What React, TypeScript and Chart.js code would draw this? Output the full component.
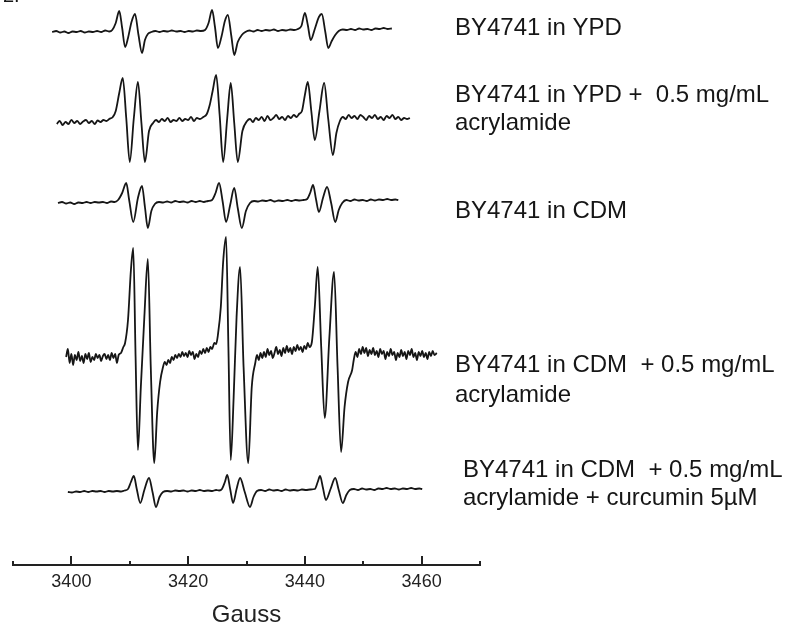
import React, { useEffect, useRef } from 'react';
import { Chart, registerables } from 'chart.js';

Chart.register(...registerables);

// ---- Data (magnetic field in Gauss, signal in arbitrary units) ----
const fieldMin = 3390;
const fieldMax = 3470;
const tickValues = [3390, 3400, 3410, 3420, 3430, 3440, 3450, 3460, 3470];
const labeledTicks = [3400, 3420, 3440, 3460];
const axisTitle = 'Gauss';

const ypd: [number, number][] = [
  [3396.7, 0], [3397.4, 1], [3398.1, -0.5], [3398.8, 0.5], [3399.5, -1], [3400.2, 0.5], [3400.9, 0], [3401.6, 1],
  [3402.3, -0.5], [3403.0, 0.5], [3403.7, 0], [3404.4, 1], [3405.1, 0], [3405.8, 1.5], [3406.5, 0.5], [3407.0, 2],
  [3407.6, 9], [3408.2, 21], [3408.7, 4], [3409.2, -15], [3409.7, -6], [3410.3, 10], [3410.9, 18], [3411.5, -3],
  [3412.1, -21], [3412.6, -8], [3413.1, -2], [3413.7, 0], [3414.4, 1], [3415.1, 0], [3415.8, 1], [3416.5, 0.5],
  [3417.2, 1.5], [3418.0, 0.5], [3418.7, 1], [3419.4, 0], [3420.1, 1], [3420.8, 0.5], [3421.5, 1.5], [3422.2, 1],
  [3422.9, 2], [3423.5, 9], [3424.1, 22], [3424.6, 5], [3425.1, -16], [3425.7, -5], [3426.3, 11], [3426.8, 17],
  [3427.4, -4], [3427.9, -23], [3428.5, -10], [3429.2, -3], [3429.8, 0], [3430.5, 1.5], [3431.2, 0.5], [3431.9, 2],
  [3432.6, 1], [3433.3, 2], [3434.0, 1.5], [3434.7, 2.5], [3435.4, 1], [3436.1, 2], [3436.8, 1.5], [3437.5, 2.5],
  [3438.2, 2], [3438.8, 3], [3439.4, 6], [3440.0, 19], [3440.5, 7], [3441.0, -8], [3441.7, 3], [3442.4, 15],
  [3442.9, 18], [3443.5, 0], [3444.0, -16], [3444.6, -9], [3445.2, -3], [3445.8, 1], [3446.5, 2.5], [3447.2, 2],
  [3447.9, 3], [3448.6, 2], [3449.3, 3.5], [3450.0, 2.5], [3450.7, 3], [3451.4, 2], [3452.1, 3.5], [3452.8, 3],
  [3453.5, 4], [3454.2, 3], [3454.9, 3.5],
];

const ypdAcrylamide: [number, number][] = [
  [3397.5, -1], [3398.0, 2], [3398.5, -2], [3399.0, 1], [3399.5, -1], [3400.0, 3], [3400.5, 0], [3401.0, 2],
  [3401.5, -1], [3402.0, 1.5], [3402.5, 3], [3403.0, 0], [3403.5, 2], [3404.0, -1], [3404.5, 2.5], [3405.0, 1],
  [3405.5, 3], [3406.0, 2], [3406.5, 4], [3407.1, 6], [3407.6, 12], [3408.2, 30], [3408.8, 45], [3409.4, 5],
  [3410.0, -39], [3410.7, 5], [3411.4, 41], [3412.0, 0], [3412.6, -39], [3413.3, -8], [3414.0, 0], [3414.5, 3],
  [3415.0, 1], [3415.5, 4], [3416.0, 2], [3416.5, 5], [3417.0, 1], [3417.5, 3], [3418.0, 2], [3418.5, 5],
  [3419.0, 2], [3419.5, 4], [3420.0, 3], [3420.5, 6], [3421.0, 2], [3421.5, 5], [3422.0, 4], [3422.6, 6],
  [3423.2, 9], [3423.7, 18], [3424.2, 32], [3424.8, 48], [3425.4, 8], [3426.0, -39], [3426.7, 5], [3427.3, 40],
  [3427.9, 0], [3428.5, -39], [3429.3, -8], [3430.1, 2], [3430.6, 4], [3431.1, 1], [3431.6, 5], [3432.1, 3],
  [3432.6, 6], [3433.1, 2], [3433.6, 7], [3434.1, 3], [3434.6, 5], [3435.1, 8], [3435.6, 4], [3436.1, 6],
  [3436.6, 3], [3437.1, 7], [3437.6, 5], [3438.1, 8], [3438.6, 6], [3439.0, 9], [3439.5, 12], [3440.0, 28],
  [3440.5, 41], [3441.1, 12], [3441.7, -17], [3442.5, 12], [3443.3, 40], [3444.0, 4], [3444.8, -32], [3445.4, -10],
  [3446.0, 2], [3446.5, 6], [3447.0, 4], [3447.5, 8], [3448.0, 5], [3448.5, 7], [3449.0, 4], [3449.5, 8],
  [3450.0, 6], [3450.5, 3], [3451.0, 7], [3451.5, 5], [3452.0, 8], [3452.5, 4], [3453.0, 6], [3453.5, 3],
  [3454.0, 7], [3454.5, 5], [3455.0, 8], [3455.5, 4], [3456.0, 6], [3456.5, 3], [3457.0, 5], [3457.5, 4],
  [3458.0, 5],
];

const cdm: [number, number][] = [
  [3397.7, 0], [3398.4, 1], [3399.1, -0.5], [3399.8, 0.5], [3400.5, -1], [3401.2, 0.5], [3401.9, 0], [3402.6, 1],
  [3403.3, 0], [3404.0, 1], [3404.7, 0.5], [3405.4, 1], [3406.1, 0], [3406.8, 1.5], [3407.4, 1], [3408.0, 3],
  [3408.7, 10], [3409.4, 20], [3409.9, 3], [3410.6, -19], [3411.4, 5], [3412.1, 17], [3412.6, -4], [3413.1, -25],
  [3413.7, -8], [3414.3, -1], [3415.0, 1], [3415.7, 0.5], [3416.4, 1.5], [3417.1, 0.5], [3417.8, 2], [3418.5, 1],
  [3419.2, 1.5], [3419.9, 0.5], [3420.6, 2], [3421.3, 1], [3422.0, 2], [3422.7, 1], [3423.4, 2], [3424.1, 3],
  [3424.7, 10], [3425.3, 20], [3425.9, 2], [3426.5, -19], [3427.2, -2], [3427.9, 15], [3428.5, -5], [3429.2, -25],
  [3429.9, -8], [3430.6, 0], [3431.3, 2], [3432.0, 1.5], [3432.7, 2.5], [3433.4, 2], [3434.1, 3], [3434.8, 1.5],
  [3435.5, 2.5], [3436.2, 2], [3437.0, 3], [3437.7, 2], [3438.4, 3], [3439.1, 2.5], [3439.8, 3], [3440.4, 4],
  [3440.9, 10], [3441.4, 18], [3441.9, 4], [3442.4, -9], [3443.1, 5], [3443.8, 16], [3444.5, 0], [3445.2, -19],
  [3445.8, -7], [3446.4, 0], [3447.1, 3], [3447.8, 2], [3448.5, 3.5], [3449.2, 2.5], [3449.9, 3], [3450.6, 2],
  [3451.3, 3.5], [3452.0, 2.5], [3452.7, 3.5], [3453.4, 3], [3454.1, 4], [3454.8, 3], [3455.5, 3.5], [3456.0, 3],
];

const cdmAcrylamide: [number, number][] = [
  [3399.1, 0], [3399.4, 8], [3399.7, -6], [3400.0, 3], [3400.3, -8], [3400.6, 2], [3400.9, -3], [3401.2, 5],
  [3401.5, -4], [3401.8, 1], [3402.1, -6], [3402.4, 3], [3402.7, -2], [3403.0, 4], [3403.3, -5], [3403.6, 0],
  [3403.9, -3], [3404.2, 3], [3404.5, -1], [3404.8, 2], [3405.1, -4], [3405.4, 1], [3405.7, 3], [3406.0, -2],
  [3406.3, 2], [3406.6, -3], [3406.9, 4], [3407.2, -1], [3407.5, 3], [3407.8, -6], [3408.1, 2], [3408.5, 4],
  [3408.9, 10], [3409.2, 14], [3409.7, 37], [3410.2, 87], [3410.6, 109], [3411.0, 0], [3411.4, -93], [3411.9, -30],
  [3412.5, 40], [3413.1, 98], [3413.6, -10], [3414.2, -106], [3414.7, -55], [3415.2, -25], [3415.7, -10], [3416.0, -5],
  [3416.3, -8], [3416.6, -3], [3416.9, -6], [3417.2, 0], [3417.5, -3], [3417.8, 2], [3418.1, -1], [3418.4, 3],
  [3418.7, 0], [3419.0, 5], [3419.3, 1], [3419.6, 4], [3419.9, 0], [3420.2, 6], [3420.5, 2], [3420.8, 5],
  [3421.1, -2], [3421.4, 3], [3421.7, 0], [3422.0, 6], [3422.3, 3], [3422.6, 8], [3422.9, 4], [3423.2, 9],
  [3423.5, 5], [3423.8, 10], [3424.1, 8], [3424.5, 14], [3424.8, 13], [3425.1, 22], [3425.6, 50], [3426.0, 95],
  [3426.5, 120], [3426.9, 10], [3427.3, -103], [3427.8, -40], [3428.3, 40], [3428.9, 90], [3429.5, -10], [3430.3, -106],
  [3430.9, -30], [3431.5, -6], [3431.8, 2], [3432.1, -3], [3432.4, 4], [3432.7, -1], [3433.0, 5], [3433.3, 0],
  [3433.6, 8], [3433.9, 2], [3434.2, 6], [3434.5, -1], [3434.8, 4], [3435.1, 10], [3435.4, 3], [3435.7, 7],
  [3436.0, 1], [3436.3, 9], [3436.6, 4], [3436.9, 11], [3437.2, 5], [3437.5, 9], [3437.8, 3], [3438.1, 10],
  [3438.4, 6], [3438.7, 12], [3439.0, 7], [3439.3, 10], [3439.6, 5], [3439.9, 11], [3440.2, 8], [3440.5, 14],
  [3440.8, 10], [3441.2, 15], [3441.7, 50], [3442.2, 90], [3442.8, 10], [3443.4, -61], [3444.2, 20], [3445.0, 85],
  [3445.6, -10], [3446.2, -95], [3446.8, -50], [3447.4, -25], [3448.1, -13], [3448.4, -2], [3448.7, 5], [3449.0, 0],
  [3449.3, 8], [3449.6, 3], [3449.9, 10], [3450.2, 4], [3450.5, 9], [3450.8, 1], [3451.1, 7], [3451.4, 3],
  [3451.7, 9], [3452.0, 2], [3452.3, 6], [3452.6, 0], [3452.9, 8], [3453.2, 3], [3453.5, 6], [3453.8, -2],
  [3454.1, 5], [3454.4, 1], [3454.7, 8], [3455.0, 2], [3455.3, 5], [3455.6, -3], [3455.9, 4], [3456.2, 0],
  [3456.5, 7], [3456.8, 1], [3457.1, 5], [3457.4, -2], [3457.7, 6], [3458.0, 2], [3458.3, 8], [3458.6, 0],
  [3458.9, 4], [3459.2, -3], [3459.5, 5], [3459.8, 1], [3460.1, 6], [3460.4, 0], [3460.7, 4], [3461.0, -2],
  [3461.3, 5], [3461.6, 1], [3461.9, 6], [3462.2, 2], [3462.6, 4],
];

const cdmAcrylamideCurcumin: [number, number][] = [
  [3399.4, 0], [3400.1, -0.5], [3400.8, 0.5], [3401.5, 0], [3402.2, 1], [3402.9, 0], [3403.6, 1], [3404.3, 0.5],
  [3405.0, 1], [3405.7, 0], [3406.4, 1], [3407.1, 0.5], [3407.8, 1], [3408.5, 0.5], [3409.1, 1.5], [3409.7, 3],
  [3410.2, 10], [3410.7, 16], [3411.2, 3], [3411.8, -11], [3412.5, 2], [3413.3, 14], [3413.9, 0], [3414.5, -15],
  [3415.1, -5], [3415.7, 0], [3416.4, 1], [3417.1, 0.5], [3417.8, 1.5], [3418.5, 1], [3419.2, 1.5], [3419.9, 0.5],
  [3420.6, 1.5], [3421.3, 1], [3422.0, 2], [3422.7, 1], [3423.4, 1.5], [3424.1, 1], [3424.8, 2], [3425.3, 1.5],
  [3425.8, 3], [3426.3, 10], [3426.7, 17], [3427.2, 3], [3427.7, -11], [3428.3, 3], [3428.9, 14], [3429.7, 0],
  [3430.6, -15], [3431.2, -5], [3431.8, 1], [3432.5, 2], [3433.2, 1], [3433.9, 2.5], [3434.6, 1.5], [3435.3, 2],
  [3436.0, 1], [3436.7, 2.5], [3437.4, 1.5], [3438.1, 2], [3438.8, 1.5], [3439.5, 2.5], [3440.2, 2], [3440.9, 2.5],
  [3441.7, 3], [3442.2, 10], [3442.6, 16], [3443.1, 4], [3443.6, -8], [3444.4, 3], [3445.2, 14], [3445.8, 2],
  [3446.5, -11], [3447.1, -3], [3447.7, 2], [3448.4, 3], [3449.1, 2], [3449.8, 3.5], [3450.5, 2.5], [3451.2, 3],
  [3451.9, 2], [3452.6, 3.5], [3453.3, 3], [3454.0, 4], [3454.7, 3], [3455.4, 3.5], [3456.1, 2.5], [3456.8, 3.5],
  [3457.5, 3], [3458.2, 4], [3458.9, 3], [3459.6, 3.5], [3460.1, 3],
];

const spectra = [ypd, ypdAcrylamide, cdm, cdmAcrylamide, cdmAcrylamideCurcumin];

const traceLabels: string[][] = [
  ['BY4741 in YPD'],
  ['BY4741 in YPD +  0.5 mg/mL', 'acrylamide'],
  ['BY4741 in CDM'],
  ['BY4741 in CDM  + 0.5 mg/mL', 'acrylamide'],
  ['BY4741 in CDM  + 0.5 mg/mL', 'acrylamide + curcumin 5µM'],
];

// ---- Layout / style (not data) ----
const stackOffsets = [533, 442, 362, 208, 73];
const yRange = 565;
const labelX = [455, 455, 455, 455, 463];
const labelLineDy = [[-4], [-28, 0], [8], [8, 38], [-22, 6]];
const FONT = '"Liberation Sans", Arial, Helvetica, sans-serif';
const INK = '#161616';

const annotatePlugin = {
  id: 'annotate',
  afterDraw(chart: any) {
    const { ctx, chartArea } = chart;
    const x = chart.scales.x;
    const y = chart.scales.y;
    ctx.save();
    // tick marks pointing up into the plot
    ctx.strokeStyle = '#222';
    ctx.lineWidth = 2;
    x.ticks.forEach((t: any) => {
      const px = Math.round(x.getPixelForValue(t.value));
      const len = labeledTicks.includes(t.value) ? 9 : 4;
      ctx.beginPath();
      ctx.moveTo(px, chartArea.bottom);
      ctx.lineTo(px, chartArea.bottom - len);
      ctx.stroke();
    });
    // trace labels
    ctx.fillStyle = INK;
    ctx.font = `24px ${FONT}`;
    ctx.textAlign = 'left';
    ctx.textBaseline = 'middle';
    traceLabels.forEach((lines, i) => {
      const base = y.getPixelForValue(stackOffsets[i]);
      lines.forEach((line, j) => {
        ctx.fillText(line, labelX[i], base + labelLineDy[i][j]);
      });
    });
    // panel number, cropped at top of the figure
    ctx.textBaseline = 'alphabetic';
    ctx.font = `20px ${FONT}`;
    ctx.fillText('2.', 3, 2);
    ctx.restore();
  },
};

export default function App() {
  const canvasRef = useRef<HTMLCanvasElement>(null);

  useEffect(() => {
    if (!canvasRef.current) return;
    const datasets = spectra.map((s, i) => ({
      data: s.map(([g, v]) => ({ x: g, y: v + stackOffsets[i] })),
      borderColor: INK,
      borderWidth: 1.8,
      pointRadius: 0,
      fill: false,
      cubicInterpolationMode: 'monotone' as const,
    }));
    const chart = new Chart(canvasRef.current, {
      type: 'line',
      data: { datasets },
      options: {
        animation: false,
        responsive: true,
        maintainAspectRatio: false,
        events: [],
        layout: { padding: { left: 13, right: 311, top: 0, bottom: 0 } },
        plugins: { legend: { display: false }, tooltip: { enabled: false } },
        scales: {
          x: {
            type: 'linear',
            min: fieldMin,
            max: fieldMax,
            afterBuildTicks: (s: any) => {
              s.ticks = tickValues.map((v) => ({ value: v }));
            },
            afterFit: (s: any) => {
              s.height = 65;
            },
            grid: { display: false, drawTicks: false },
            border: { display: true, color: '#222', width: 2 },
            ticks: {
              autoSkip: false,
              maxRotation: 0,
              padding: 6,
              color: '#222',
              font: { size: 18, family: FONT },
              callback: (v: any) => (labeledTicks.includes(Number(v)) ? String(v) : ''),
            },
            title: {
              display: true,
              text: axisTitle,
              color: '#222',
              font: { size: 24, family: FONT },
              padding: 0,
            },
          },
          y: { type: 'linear', display: false, min: 0, max: yRange },
        },
      },
      plugins: [annotatePlugin],
    });
    return () => chart.destroy();
  }, []);

  return (
    <div style={{ position: 'fixed', left: 0, top: 0, width: 791, height: 630, background: '#fff' }}>
      <canvas ref={canvasRef} />
    </div>
  );
}
